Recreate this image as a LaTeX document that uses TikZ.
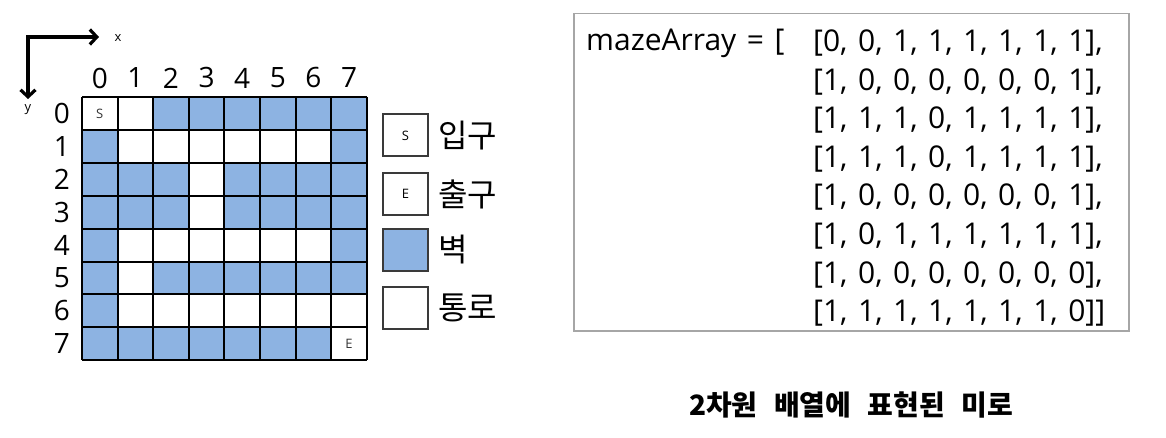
\documentclass[tikz,border=0pt]{standalone}
\usepackage{fontspec}
\setmainfont{Open Sans}
\newfontfamily\kr{Noto Sans CJK KR}
\newfontfamily\arrfont{Open Sans}[WordSpace=1.35]
\usetikzlibrary{arrows.meta}
\definecolor{wallblue}{HTML}{8DB3E2}
\definecolor{legendedge}{HTML}{3A3A3A}
\definecolor{boxgray}{HTML}{A6A6A6}
\tikzset{
  cellbox/.style={inner sep=0pt, outer sep=0pt, minimum width=35.6pt, minimum height=32.9pt, font=\fontsize{13}{13}\selectfont},
  gridline/.style={line width=2pt, black},
  axisarrow/.style={line width=3.2pt, -{Straight Barb[length=7pt,width=15pt,line width=3.2pt]}},
  idxlabel/.style={font=\fontsize{28}{28}\selectfont, inner sep=0pt},
  legbox/.style={draw=legendedge, line width=2pt, minimum width=45pt, minimum height=42pt, inner sep=0pt, font=\fontsize{13}{13}\selectfont},
  legtext/.style={anchor=west, inner sep=0pt, font=\kr\fontsize{32}{32}\selectfont},
  arrtext/.style={anchor=west, inner sep=0pt, font=\arrfont\fontsize{30}{30}\selectfont},
}
\begin{document}
\begin{tikzpicture}[x=1pt,y=-1pt]
\useasboundingbox (0,0) rectangle (1166,438);
% axes
\coordinate (ax0) at (28,37);
\coordinate (axx) at (99,37);
\coordinate (axy) at (28,99);
\draw[axisarrow] ([xshift=-1.6pt]ax0) -- (axx);
\draw[axisarrow] ([yshift=-1.6pt]ax0) -- (axy);
\node[inner sep=0pt, font=\fontsize{13}{13}\selectfont] (xl) at (118,38) {x};
\node[inner sep=0pt, font=\fontsize{13}{13}\selectfont] (yl) at (28,110) {y};
% maze cells
\foreach \rowvals [count=\r from 0] in {{0,0,1,1,1,1,1,1},{1,0,0,0,0,0,0,1},{1,1,1,0,1,1,1,1},{1,1,1,0,1,1,1,1},{1,0,0,0,0,0,0,1},{1,0,1,1,1,1,1,1},{1,0,0,0,0,0,0,0},{1,1,1,1,1,1,1,0}}{
  \foreach \v [count=\c from 0] in \rowvals {
    \ifnum\v=1 \def\cf{wallblue}\else\def\cf{white}\fi
    \node[cellbox, fill=\cf] (c-\r-\c) at ({99.8+35.6*\c},{113.45+32.9*\r}) {};
  }
}
% grid lines
\foreach \i in {0,...,7}{
  \draw[gridline] (c-0-\i.north west) -- (c-7-\i.south west);
  \draw[gridline] (c-\i-0.north west) -- (c-\i-7.north east);
}
\draw[gridline] (c-0-7.north east) -- (c-7-7.south east);
\draw[gridline] (c-7-0.south west) -- (c-7-7.south east);
\node[inner sep=0pt, font=\fontsize{13}{13}\selectfont, text=black!80] (sl) at (c-0-0) {S};
\node[inner sep=0pt, font=\fontsize{13}{13}\selectfont, text=black!80] (el) at (c-7-7) {E};
% index labels
\foreach \i in {0,...,7}{
  \node[idxlabel] (col-\i) at ({99.8+35.6*\i},78) {\i};
  \node[idxlabel] (row-\i) at (62,{113.45+32.9*\i}) {\i};
}
% legend
\node[legbox] (lgS) at (405.5,135.5) {S};
\node[legbox] (lgE) at (405.5,194) {E};
\node[legbox, fill=wallblue] (lgW) at (405.5,250) {};
\node[legbox] (lgP) at (405.5,307.5) {};
\node[legtext] (tS) at (438,135.5) {입구};
\node[legtext] (tE) at (438,194) {출구};
\node[legtext] (tW) at (438,250) {벽};
\node[legtext] (tP) at (438,307.5) {통로};
% array box
\node[draw=boxgray, line width=1.5pt, minimum width=555pt, minimum height=317pt, inner sep=0pt, anchor=north west] (abox) at (573,13) {};
\node[arrtext] (aname) at (586,43) {mazeArray = [};
\foreach \line [count=\k from 0] in {{[0, 0, 1, 1, 1, 1, 1, 1],},{[1, 0, 0, 0, 0, 0, 0, 1],},{[1, 1, 1, 0, 1, 1, 1, 1],},{[1, 1, 1, 0, 1, 1, 1, 1],},{[1, 0, 0, 0, 0, 0, 0, 1],},{[1, 0, 1, 1, 1, 1, 1, 1],},{[1, 0, 0, 0, 0, 0, 0, 0],},{[1, 1, 1, 1, 1, 1, 1, 0]]}}{
  \node[arrtext] (arow-\k) at (813,{43+38.6*\k}) {\line};
}
% caption
\node[inner sep=0pt, font=\kr\bfseries\fontsize{28}{28}\selectfont] (cap) at (851,405) {2차원\hspace{10pt} 배열에\hspace{10pt} 표현된\hspace{10pt} 미로};
\end{tikzpicture}
\end{document}
